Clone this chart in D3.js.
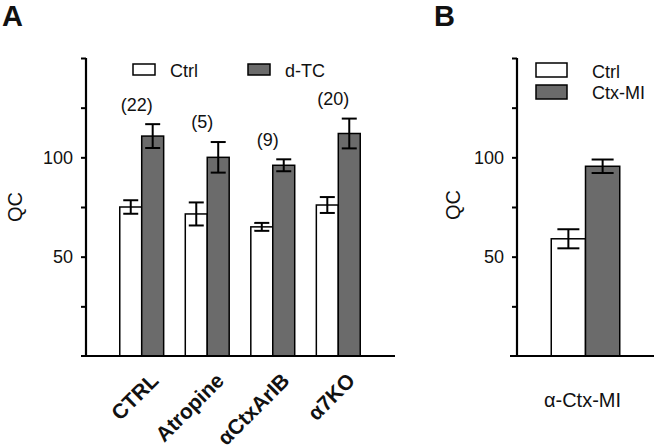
<!DOCTYPE html>
<html><head><meta charset="utf-8">
<script src="https://cdn.jsdelivr.net/npm/d3@7"></script>
<style>
body{margin:0;background:#fff;}
text{font-family:"Liberation Sans",Arial,sans-serif;fill:#111;}
</style></head>
<body><svg id="c" width="656" height="447"></svg>
<script>
// Panel A data
const categoriesA = ["CTRL", "Atropine", "\u03B1CtxArIB", "\u03B17KO"];
const seriesA = ["Ctrl", "d-TC"];
const ctrlMeanA = [75, 71.5, 65, 76];
const ctrlErrA  = [3.4, 5.8, 2, 4];
const dtcMeanA  = [110.7, 100, 96, 112];
const dtcErrA   = [6, 7.7, 3, 7.5];
const nLabelsA  = ["(22)", "(5)", "(9)", "(20)"];
// Panel B data
const categoriesB = ["\u03B1-Ctx-MI"];
const seriesB = ["Ctrl", "Ctx-MI"];
const ctrlMeanB = [59];
const ctrlErrB  = [4.8];
const ctxMeanB  = [95.5];
const ctxErrB   = [3.4];
// Axis
const yTicks = [0, 25, 50, 75, 100, 125, 150];
const yTickLabels = [50, 100];

const svg = d3.select("#c");
const GRAY = "#6b6b6b";
const y = d3.scaleLinear().domain([0, 150]).range([356, 58]);

function yAxis(x0) {
  const g = svg.append("g").attr("transform", `translate(${x0},0)`)
    .call(d3.axisLeft(y).tickValues(yTicks).tickSize(5).tickPadding(8)
      .tickFormat(d => yTickLabels.includes(d) ? d : ""));
  g.select(".domain").attr("stroke", "#000").attr("stroke-width", 2.2)
    .attr("d", `M0,${y(150)}V${y(0)}`);
  g.selectAll(".tick line").attr("stroke", "#000").attr("stroke-width", 2);
  g.selectAll(".tick").filter(d => d === 0).select("line").remove();
  g.selectAll(".tick text").attr("font-size", 18).style("font-family", "Liberation Sans, Arial");
  return g;
}

function bars(g, xs, cats, series, means, errs, capW) {
  cats.forEach((c, i) => {
    series.forEach((s, j) => {
      const m = means[j][i], e = errs[j][i];
      const bx = xs.x0(c) + xs.x1(s), bw = xs.x1.bandwidth();
      g.append("rect").attr("x", bx).attr("y", y(m)).attr("width", bw)
        .attr("height", y(0) - y(m))
        .attr("fill", j === 0 ? "#fff" : GRAY).attr("stroke", "#000").attr("stroke-width", 1.5);
      const cx = bx + bw / 2;
      const eg = g.append("g").attr("stroke", "#000").attr("stroke-width", 2);
      eg.append("line").attr("x1", cx).attr("x2", cx).attr("y1", y(m + e)).attr("y2", y(m - e));
      eg.append("line").attr("x1", cx - capW / 2).attr("x2", cx + capW / 2).attr("y1", y(m + e)).attr("y2", y(m + e));
      eg.append("line").attr("x1", cx - capW / 2).attr("x2", cx + capW / 2).attr("y1", y(m - e)).attr("y2", y(m - e));
    });
  });
}

// ---- Panel A ----
const x0A = d3.scaleBand().domain(categoriesA).range([87, 393]).paddingInner(0.33).paddingOuter(0.5);
const x1A = d3.scaleBand().domain(seriesA).range([0, x0A.bandwidth()]);
const gA = svg.append("g");
bars(gA, {x0: x0A, x1: x1A}, categoriesA, seriesA, [ctrlMeanA, dtcMeanA], [ctrlErrA, dtcErrA], 15);
gA.append("line").attr("x1", 81).attr("x2", 395).attr("y1", y(0)).attr("y2", y(0))
  .attr("stroke", "#000").attr("stroke-width", 2.2);
yAxis(86);

// sample sizes
categoriesA.forEach((c, i) => {
  gA.append("text").attr("x", x0A(c) + x0A.bandwidth() / 2 - 5)
    .attr("y", y(dtcMeanA[i] + dtcErrA[i] + 10)).attr("dy", "0.35em")
    .attr("text-anchor", "middle").attr("font-size", 18).text(nLabelsA[i]);
});
// category labels
categoriesA.forEach(c => {
  const cx = x0A(c) + x0A.bandwidth() / 2;
  gA.append("text").attr("transform", `translate(${cx + 18},382) rotate(-45)`)
    .attr("text-anchor", "end").attr("font-size", 21).attr("font-weight", "bold").text(c);
});
// legend A
const legA = [[133, 170, seriesA[0], "#fff"], [248, 285, seriesA[1], GRAY]];
legA.forEach(([bx, tx, t, f]) => {
  gA.append("rect").attr("x", bx).attr("y", 64).attr("width", 22).attr("height", 11)
    .attr("fill", f).attr("stroke", "#000").attr("stroke-width", 1.5);
  gA.append("text").attr("x", tx).attr("y", 77).attr("font-size", 18).text(t);
});
svg.append("text").attr("transform", "translate(22,207) rotate(-90)").attr("text-anchor", "middle")
  .attr("font-size", 20).text("QC");
svg.append("text").attr("x", 2).attr("y", 26).attr("font-size", 29).attr("font-weight", "bold").text("A");

// ---- Panel B ----
const x0B = d3.scaleBand().domain(categoriesB).range([517, 654]).paddingInner(0.5).paddingOuter(0.25);
const x1B = d3.scaleBand().domain(seriesB).range([0, x0B.bandwidth()]);
const gB = svg.append("g");
bars(gB, {x0: x0B, x1: x1B}, categoriesB, seriesB, [ctrlMeanB, ctxMeanB], [ctrlErrB, ctxErrB], 22);
gB.append("line").attr("x1", 510).attr("x2", 654).attr("y1", y(0)).attr("y2", y(0))
  .attr("stroke", "#000").attr("stroke-width", 2.2);
yAxis(517);
categoriesB.forEach(c => {
  gB.append("text").attr("x", x0B(c) + x0B.bandwidth() / 2 - 3).attr("y", 407)
    .attr("text-anchor", "middle").attr("font-size", 20).text(c);
});
const legB = [[63, 78, seriesB[0], "#fff"], [85, 99, seriesB[1], GRAY]];
legB.forEach(([by, ty, t, f]) => {
  gB.append("rect").attr("x", 536).attr("y", by).attr("width", 31).attr("height", 14)
    .attr("fill", f).attr("stroke", "#000").attr("stroke-width", 1.5);
  gB.append("text").attr("x", 592).attr("y", ty).attr("font-size", 18).text(t);
});
svg.append("text").attr("transform", "translate(460,205) rotate(-90)").attr("text-anchor", "middle")
  .attr("font-size", 20).text("QC");
svg.append("text").attr("x", 434).attr("y", 26).attr("font-size", 29).attr("font-weight", "bold").text("B");
</script></body></html>
